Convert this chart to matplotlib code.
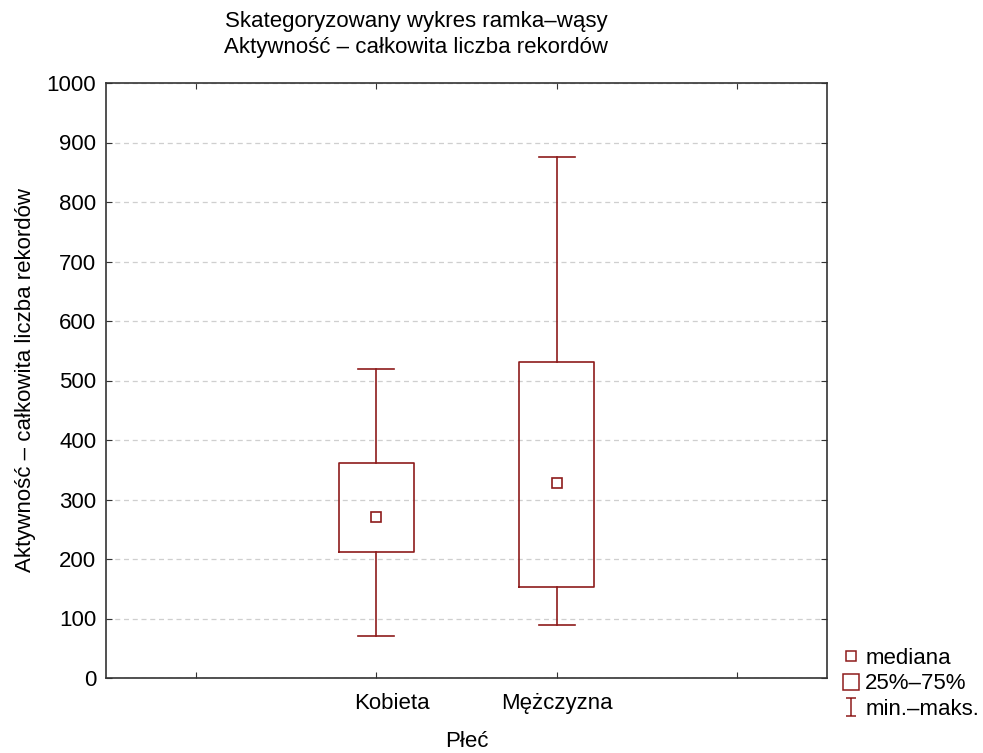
import matplotlib.pyplot as plt
import matplotlib.transforms as mtransforms
from matplotlib.lines import Line2D
from matplotlib.path import Path

plt.rcParams['font.family'] = ['Liberation Sans', 'DejaVu Sans']

groups = ['Kobieta', 'Mężczyzna']
mins = [70, 89]
q1 = [211, 153]
medians = [270, 328]
q3 = [362, 531]
maxs = [520, 876]

RED = '#8E1B1B'
FS = 16
positions = [1.5, 2.5]

fig = plt.figure(figsize=(9.83, 7.53), dpi=100)
ax = fig.add_axes([106 / 983, 1 - 678 / 753, 721 / 983, 595 / 753])

stats = []
for g, lo, a, m, b, hi in zip(groups, mins, q1, medians, q3, maxs):
    stats.append({'label': g, 'whislo': lo, 'q1': a, 'med': m, 'q3': b,
                  'whishi': hi, 'fliers': []})

ax.bxp(stats, positions=positions, widths=0.417, showcaps=True,
       boxprops=dict(color=RED, lw=1.2),
       whiskerprops=dict(color=RED, lw=1.2),
       capprops=dict(color=RED, lw=1.2),
       medianprops=dict(lw=0), capwidths=0.2, manage_ticks=False)
ax.plot(positions, medians, ls='none', marker='s', ms=6.5, mfc='white',
        mec=RED, mew=1.2, zorder=5)

ax.set_xlim(0, 4)
ax.set_ylim(0, 1000)
ax.set_yticks(range(0, 1001, 100))
ax.set_xticks([0.5, 1.5, 2.5, 3.5])
ax.set_xticklabels(['', groups[0], groups[1], ''])
ax.tick_params(direction='in', length=4, top=True, right=True,
               labelsize=FS, pad=7, color='#333333')
ax.tick_params(axis='x', pad=11)
# Kobieta label sits a little right of its box
shift = mtransforms.ScaledTranslation(16 / 100, 0, fig.dpi_scale_trans)
lab = ax.get_xticklabels()[1]
lab.set_transform(lab.get_transform() + shift)

ax.yaxis.grid(True, ls=(0, (4, 3)), color='#cfcfcf', lw=0.9)
ax.set_axisbelow(True)
for s in ax.spines.values():
    s.set_color('#333333')
    s.set_linewidth(1.2)

ax.set_xlabel('Płeć', fontsize=FS, labelpad=12)
ax.set_ylabel('Aktywność – całkowita liczba rekordów', fontsize=FS, labelpad=8)

fig.text(416 / 983, 1 - 22 / 753, 'Skategoryzowany wykres ramka–wąsy',
         ha='center', va='center', fontsize=FS)
fig.text(416 / 983, 1 - 47 / 753, 'Aktywność – całkowita liczba rekordów',
         ha='center', va='center', fontsize=FS)

# I-shaped symbol for the min-max entry
i_path = Path([(-0.5, 1), (0.5, 1), (0, 1), (0, -1), (-0.5, -1), (0.5, -1)],
              [Path.MOVETO, Path.LINETO, Path.MOVETO, Path.LINETO,
               Path.MOVETO, Path.LINETO])
handles = [
    Line2D([], [], ls='none', marker='s', ms=7, mfc='white', mec=RED, mew=1.1),
    Line2D([], [], ls='none', marker='s', ms=11, mfc='white', mec=RED, mew=1.1),
    Line2D([], [], ls='none', marker=i_path, ms=13, mfc='none', mec=RED, mew=1.1),
]
fig.legend(handles, ['mediana', '25%–75%', 'min.–maks.'],
           loc='upper left', bbox_to_anchor=(843 / 983, 1 - 648 / 753),
           frameon=False, fontsize=FS, handlelength=0.7, handletextpad=0.3,
           labelspacing=0.2, borderaxespad=0, borderpad=0)

fig.savefig('out.png', dpi=100)
